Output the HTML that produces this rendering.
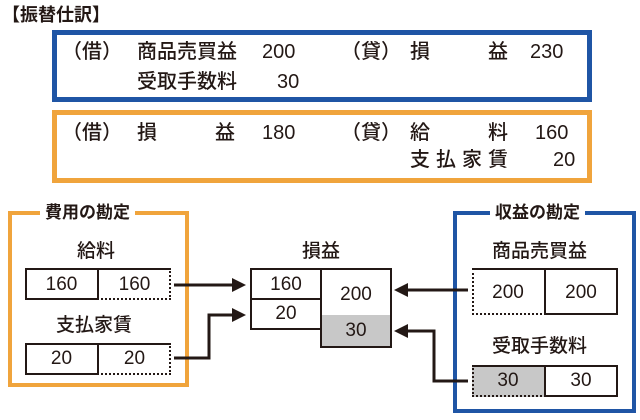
<!DOCTYPE html>
<html><head><meta charset="utf-8"><style>
body{margin:0;width:640px;height:420px;background:#fff;position:relative;overflow:hidden;font-family:"Liberation Sans","Noto Sans CJK JP",sans-serif;color:#231815}
.t{position:absolute;font-size:20px;line-height:1;white-space:nowrap;font-weight:500}
.b{position:absolute;box-sizing:border-box}
.c{position:absolute;font-size:19px;line-height:1;text-align:center}
</style></head><body>
<div class="t" style="left:2px;top:6px;font-size:18px;font-weight:bold">【振替仕訳】</div>
<div class="b" style="left:52px;top:30px;width:540px;height:72px;border:5px solid #1f55a5"></div>
<div class="b" style="left:52px;top:110px;width:540px;height:73px;border:5px solid #f0a43c"></div>
<div class="t" style="left:62px;top:42px">（借）</div>
<div class="t" style="left:137px;top:42px">商品売買益</div>
<div class="t" style="left:262px;top:42px">200</div>
<div class="t" style="left:341px;top:42px">（貸）</div>
<div class="t" style="left:410px;top:42px">損</div>
<div class="t" style="left:488px;top:42px">益</div>
<div class="t" style="left:530px;top:42px">230</div>
<div class="t" style="left:137px;top:72px">受取手数料</div>
<div class="t" style="left:277px;top:72px">30</div>
<div class="t" style="left:62px;top:123px">（借）</div>
<div class="t" style="left:137px;top:123px">損</div>
<div class="t" style="left:215px;top:123px">益</div>
<div class="t" style="left:262px;top:123px">180</div>
<div class="t" style="left:341px;top:123px">（貸）</div>
<div class="t" style="left:410px;top:123px">給</div>
<div class="t" style="left:488px;top:123px">料</div>
<div class="t" style="left:535px;top:123px">160</div>
<div class="t" style="left:410px;top:150px;letter-spacing:6px">支払家賃</div>
<div class="t" style="left:553px;top:150px">20</div>

<!-- left orange -->
<div class="b" style="left:8px;top:211px;width:181px;height:176px;border:4px solid #f0a43c"></div>
<div class="t" style="left:40px;top:204px;padding:0 5px;background:#fff;font-size:17px;font-weight:bold">費用の勘定</div>
<div class="t" style="left:77px;top:242px;font-size:19px">給料</div>
<div class="b" style="left:25px;top:268px;width:74px;height:32px;border:2px solid #231815;border-right:none"></div>
<div class="b" style="left:97px;top:268px;width:74px;height:32px;border-top:2px solid #231815;border-left:2px solid #231815;border-right:2px dotted #231815;border-bottom:2px dotted #231815"></div>
<div class="c" style="left:25px;top:275px;width:73px">160</div>
<div class="c" style="left:98px;top:275px;width:73px">160</div>
<div class="t" style="left:56px;top:316px;font-size:19px">支払家賃</div>
<div class="b" style="left:25px;top:343px;width:74px;height:32px;border:2px solid #231815;border-right:none"></div>
<div class="b" style="left:97px;top:343px;width:74px;height:32px;border-top:2px solid #231815;border-left:2px solid #231815;border-right:2px dotted #231815;border-bottom:2px dotted #231815"></div>
<div class="c" style="left:25px;top:349px;width:73px">20</div>
<div class="c" style="left:98px;top:349px;width:73px">20</div>

<!-- center -->
<div class="t" style="left:302px;top:242px;font-size:19px">損益</div>
<div class="b" style="left:250px;top:268px;width:72px;height:62px;border:2px solid #231815"></div>
<div class="b" style="left:250px;top:298px;width:72px;height:2px;background:#231815"></div>
<div class="b" style="left:320px;top:268px;width:72px;height:80px;border:2px solid #231815;background:linear-gradient(#fff 0,#fff 45px,#c8c8c8 45px)"></div>
<div class="c" style="left:250px;top:275px;width:72px">160</div>
<div class="c" style="left:250px;top:304px;width:72px">20</div>
<div class="c" style="left:320px;top:285px;width:72px">200</div>
<div class="c" style="left:320px;top:321px;width:72px">30</div>

<!-- right blue -->
<div class="b" style="left:453px;top:211px;width:183px;height:202px;border:4px solid #1f55a5"></div>
<div class="t" style="left:490px;top:204px;padding:0 5px;background:#fff;font-size:17px;font-weight:bold">収益の勘定</div>
<div class="t" style="left:492px;top:242px;font-size:19px">商品売買益</div>
<div class="b" style="left:472px;top:268px;width:74px;height:47px;border-top:2px solid #231815;border-left:2px dotted #231815;border-bottom:2px dotted #231815"></div>
<div class="b" style="left:544px;top:268px;width:74px;height:47px;border:2px solid #231815"></div>
<div class="c" style="left:472px;top:283px;width:72px">200</div>
<div class="c" style="left:544px;top:283px;width:74px">200</div>
<div class="t" style="left:492px;top:337px;font-size:19px">受取手数料</div>
<div class="b" style="left:472px;top:365px;width:74px;height:32px;background:#c8c8c8;border-top:2px solid #231815;border-left:2px dotted #231815;border-bottom:2px dotted #231815"></div>
<div class="b" style="left:544px;top:365px;width:74px;height:32px;border:2px solid #231815"></div>
<div class="c" style="left:472px;top:371px;width:72px">30</div>
<div class="c" style="left:544px;top:371px;width:74px">30</div>

<svg width="640" height="420" style="position:absolute;left:0;top:0" fill="none" stroke="#231815" stroke-width="3">
<path d="M174 285H234"/><polygon points="246,285 232,278 232,292" fill="#231815" stroke="none"/>
<path d="M174 358H209V315H234"/><polygon points="246,315 232,308 232,322" fill="#231815" stroke="none"/>
<path d="M468 290H406"/><polygon points="394,290 408,283 408,297" fill="#231815" stroke="none"/>
<path d="M468 381H434V331H406"/><polygon points="394,331 408,324 408,338" fill="#231815" stroke="none"/>
</svg>
</body></html>
